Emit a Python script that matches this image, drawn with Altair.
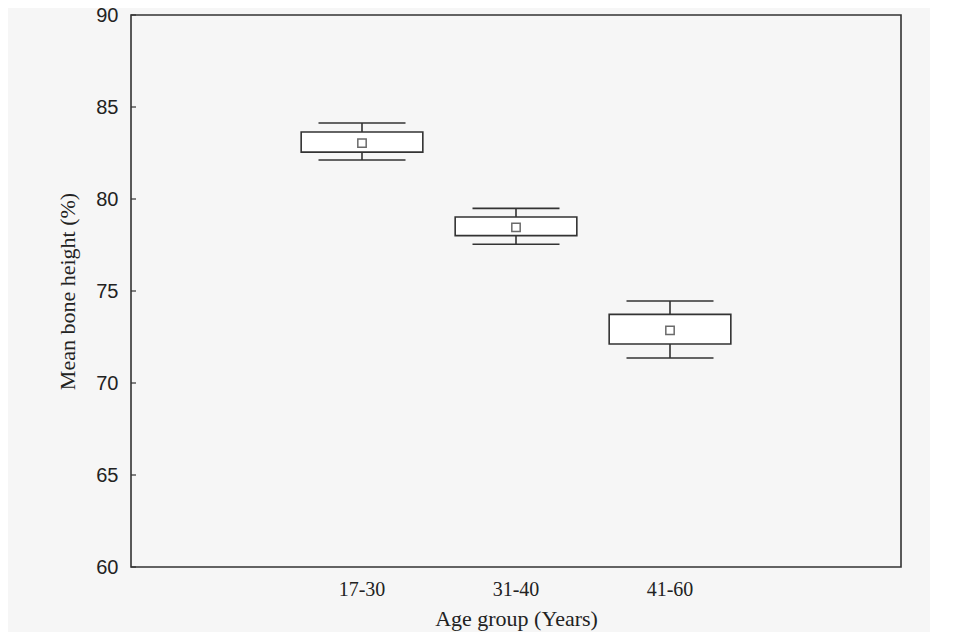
import altair as alt
import pandas as pd

groups = ["17-30", "31-40", "41-60"]
mins = [82.12, 77.54, 71.36]
q1s = [82.55, 78.01, 72.12]
means = [83.04, 78.46, 72.86]
q3s = [83.64, 79.02, 73.73]
maxs = [84.13, 79.49, 74.46]
y_ticks = [60, 65, 70, 75, 80, 85, 90]
x_domain = ["pad_a", "17-30", "31-40", "41-60", "pad_b"]

df = pd.DataFrame({"group": groups, "lo": mins, "q1": q1s, "mean": means, "q3": q3s, "hi": maxs})
ticks_df = pd.DataFrame({"v": y_ticks})

line = "#333333"
serif = "Liberation Serif"
sans = "Liberation Sans"

x_enc = alt.X(
    "group:N",
    scale=alt.Scale(domain=x_domain, paddingInner=0, paddingOuter=0),
    axis=alt.Axis(
        title="Age group (Years)",
        labelExpr="slice(datum.value,0,3)=='pad' ? '' : datum.value",
        labelAngle=0,
        labelFont=serif,
        labelFontSize=20,
        labelColor="#222",
        labelPadding=12,
        titleFont=serif,
        titleFontSize=22,
        titleFontWeight="normal",
        titleColor="#222",
        titlePadding=9,
        ticks=False,
        domain=False,
        grid=False,
    ),
)

yscale = alt.Scale(domain=[60, 90], nice=False, zero=False)
y_axis = alt.Axis(
    title="Mean bone height (%)",
    values=y_ticks,
    labelFont=sans,
    labelFontSize=20,
    labelColor="#222",
    labelPadding=13,
    titleFont=serif,
    titleFontSize=22,
    titleFontWeight="normal",
    titleColor="#222",
    titlePadding=16,
    ticks=False,
    domain=False,
    grid=False,
)

base = alt.Chart(df)

whisk_lo = base.mark_rule(color=line, strokeWidth=1.6, opacity=1).encode(
    x=x_enc, y=alt.Y("lo:Q", scale=yscale, axis=y_axis), y2="q1:Q"
)
whisk_hi = base.mark_rule(color=line, strokeWidth=1.6, opacity=1).encode(
    x=x_enc, y=alt.Y("q3:Q", scale=yscale), y2="hi:Q"
)
cap_lo = base.mark_tick(color=line, size=87, thickness=1.6, orient="horizontal", opacity=1).encode(
    x=x_enc, y=alt.Y("lo:Q", scale=yscale)
)
cap_hi = base.mark_tick(color=line, size=87, thickness=1.6, orient="horizontal", opacity=1).encode(
    x=x_enc, y=alt.Y("hi:Q", scale=yscale)
)
box = base.mark_bar(fill="white", stroke=line, strokeWidth=1.6, opacity=1,
                    width=alt.RelativeBandSize(0.79)).encode(
    x=x_enc, y=alt.Y("q1:Q", scale=yscale), y2="q3:Q"
)
mean_pt = base.mark_square(size=70, fill="white", stroke="#6a6a6a", strokeWidth=1.5, opacity=1).encode(
    x=x_enc, y=alt.Y("mean:Q", scale=yscale)
)
yticks = alt.Chart(ticks_df).mark_rule(color=line, strokeWidth=1.2).encode(
    y=alt.Y("v:Q", scale=yscale), x=alt.value(0), x2=alt.value(5)
)

chart = alt.layer(whisk_lo, whisk_hi, cap_lo, cap_hi, box, mean_pt, yticks).properties(
    width=770,
    height=552,
    autosize=alt.AutoSizeParams(type="none"),
    padding={"left": 123, "top": 7, "right": 29, "bottom": 75},
    background="#f6f6f6",
).configure_view(stroke=line, strokeWidth=1.6, fill="#f6f6f6")

chart.save("out.html", embed_options={"renderer": "svg", "actions": False})
